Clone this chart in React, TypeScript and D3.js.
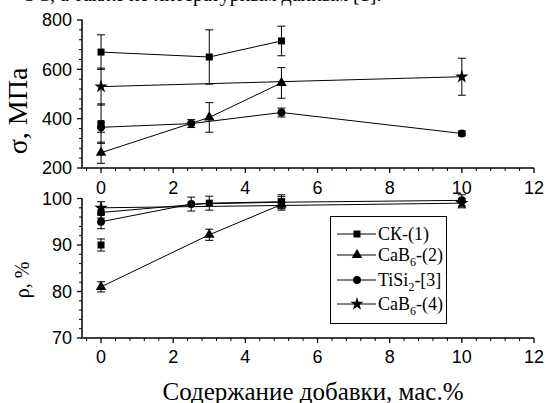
import React from "react";
import * as d3 from "d3";

// ---- data ----
const xSK = [0, 3, 5];
const sigmaSK = [670, 650, 715];
const sigmaSKErr = [70, 110, 60];
const rhoSK = [97, 99, 99.3];
const rhoSKErr = [1.2, 1.5, 1.5];
// separate СК point at 0 %
const xSKextra = [0];
const sigmaSKextra = [380];
const sigmaSKextraErr = [80];
const rhoSKextra = [90];
const rhoSKextraErr = [1.3];

const xCaB2 = [0, 3, 5];
const sigmaCaB2 = [262, 405, 545];
const sigmaCaB2Err = [43, 60, 62];
const rhoCaB2 = [81, 92.2, 98.7];
const rhoCaB2Err = [1.1, 1.2, 1.2];

const xTiSi = [0, 2.5, 5, 10];
const sigmaTiSi = [365, 380, 425, 340];
const sigmaTiSiErr = [20, 16, 18, 10];
const rhoTiSi = [95, 98.8, 99.2, 99.6];
const rhoTiSiErr = [1.5, 1.5, 1.2, 1.2];

const xCaB4 = [0, 10];
const sigmaCaB4 = [530, 570];
const sigmaCaB4Err = [75, 75];
const rhoCaB4 = [98, 99];
const rhoCaB4Err = [1.3, 1.0];

const xTicks = [0, 2, 4, 6, 8, 10, 12];
const sigmaTicks = [200, 400, 600, 800];
const rhoTicks = [70, 80, 90, 100];

const legendItems = [
  { sym: "square", main: "СК-(1)", sub: "", rest: "" },
  { sym: "triangle", main: "CaB", sub: "6", rest: "-(2)" },
  { sym: "circle", main: "TiSi", sub: "2", rest: "-[3]" },
  { sym: "star", main: "CaB", sub: "6", rest: "-(4)" },
];

type Sym = "square" | "triangle" | "circle" | "star";

const symPath = (s: Sym) => {
  if (s === "square") return d3.symbol(d3.symbolSquare, 49)()!;
  if (s === "triangle") return d3.symbol(d3.symbolTriangle, 48)()!;
  if (s === "circle") return d3.symbol(d3.symbolCircle, 50)()!;
  return d3.symbol(d3.symbolStar, 55)()!;
};

const SANS = "Liberation Sans, Arial, sans-serif";
const SERIF = "Liberation Serif, Times New Roman, serif";

export default function App() {
  const W = 548;
  const H = 403;
  const x = d3.scaleLinear().domain([-0.5, 12]).range([83, 534]);
  const yTop = d3.scaleLinear().domain([200, 800]).range([168, 20]);
  const yBot = d3.scaleLinear().domain([70, 100]).range([338, 198.5]);

  const xMinor = d3.range(-0.4, 12.001, 0.4).filter(
    (v) => Math.abs(v / 2 - Math.round(v / 2)) > 0.01
  );
  const topMinor = d3.range(200, 800.1, 40).filter((v) => v % 200 !== 0);
  const botMinor = d3.range(70, 100.1, 2).filter((v) => v % 10 !== 0);

  const line = (xs: number[], ys: number[], ys2: d3.ScaleLinear<number, number>) =>
    d3.line<number>().x((_, i) => x(xs[i])).y((v) => ys2(v))(ys) || "";

  const series = (
    xs: number[],
    ys: number[],
    errs: number[],
    sym: Sym,
    y: d3.ScaleLinear<number, number>,
    key: string,
    drawLine = true
  ) => (
    <g key={key}>
      {drawLine && xs.length > 1 && (
        <path d={line(xs, ys, y)} fill="none" stroke="#000" strokeWidth={1} />
      )}
      {xs.map((xv, i) => {
        const cx = x(xv);
        const y1 = y(ys[i] + errs[i]);
        const y2 = y(ys[i] - errs[i]);
        return (
          <g key={i}>
            <line x1={cx} x2={cx} y1={y1} y2={y2} stroke="#000" strokeWidth={1} />
            <line x1={cx - 4} x2={cx + 4} y1={y1} y2={y1} stroke="#000" strokeWidth={1} />
            <line x1={cx - 4} x2={cx + 4} y1={y2} y2={y2} stroke="#000" strokeWidth={1} />
          </g>
        );
      })}
      {xs.map((xv, i) => (
        <path key={"m" + i} d={symPath(sym)} transform={`translate(${x(xv)},${y(ys[i])})`} fill="#000" />
      ))}
    </g>
  );

  const xAxis = (y0: number, labelY: number, key: string) => (
    <g key={key}>
      <line x1={x(-0.5)} x2={x(12)} y1={y0} y2={y0} stroke="#000" strokeWidth={1.5} />
      {xTicks.map((t) => (
        <g key={t}>
          <line x1={x(t)} x2={x(t)} y1={y0} y2={y0 + 5} stroke="#000" strokeWidth={1.3} />
          <text x={x(t)} y={labelY} textAnchor="middle" style={{ fontFamily: SANS, fontSize: 18 }}>
            {t}
          </text>
        </g>
      ))}
      {xMinor.map((t) => (
        <line key={"n" + t} x1={x(t)} x2={x(t)} y1={y0} y2={y0 + 3} stroke="#000" strokeWidth={1} />
      ))}
    </g>
  );

  const yAxis = (
    y: d3.ScaleLinear<number, number>,
    ticks: number[],
    minor: number[],
    key: string
  ) => {
    const [a, b] = y.range();
    return (
      <g key={key}>
        <line x1={82} x2={82} y1={a + 0.75} y2={b - 0.5} stroke="#000" strokeWidth={1.5} />
        {ticks.map((t) => (
          <g key={t}>
            <line x1={77} x2={82} y1={y(t)} y2={y(t)} stroke="#000" strokeWidth={1.3} />
            <text x={72} y={y(t) + 6.4} textAnchor="end" style={{ fontFamily: SANS, fontSize: 18 }}>
              {t}
            </text>
          </g>
        ))}
        {minor.map((t) => (
          <line key={"n" + t} x1={79} x2={82} y1={y(t)} y2={y(t)} stroke="#000" strokeWidth={1} />
        ))}
      </g>
    );
  };

  const legendYs = [234, 255, 280, 304];

  return (
    <svg width={W} height={H} style={{ position: "absolute", left: 0, top: 0, background: "#fff" }}>
      <rect width={W} height={H} fill="#fff" />
      <text x={22} y={1} style={{ fontFamily: SERIF, fontSize: 20 }}>
        ОС, а также по литературным данным [1].
      </text>

      {/* top panel */}
      {series(xSK, sigmaSK, sigmaSKErr, "square", yTop, "s1")}
      {series(xSKextra, sigmaSKextra, sigmaSKextraErr, "square", yTop, "s1e", false)}
      {series(xCaB4, sigmaCaB4, sigmaCaB4Err, "star", yTop, "s4")}
      {series(xTiSi, sigmaTiSi, sigmaTiSiErr, "circle", yTop, "s3")}
      {series(xCaB2, sigmaCaB2, sigmaCaB2Err, "triangle", yTop, "s2")}
      {yAxis(yTop, sigmaTicks, topMinor, "ya")}
      {xAxis(168, 193.5, "xa")}

      {/* bottom panel */}
      {series(xSK, rhoSK, rhoSKErr, "square", yBot, "r1")}
      {series(xSKextra, rhoSKextra, rhoSKextraErr, "square", yBot, "r1e", false)}
      {series(xCaB2, rhoCaB2, rhoCaB2Err, "triangle", yBot, "r2")}
      {series(xTiSi, rhoTiSi, rhoTiSiErr, "circle", yBot, "r3")}
      {series(xCaB4, rhoCaB4, rhoCaB4Err, "star", yBot, "r4")}
      {yAxis(yBot, rhoTicks, botMinor, "yb")}
      {xAxis(338, 363, "xb")}

      {/* legend */}
      <rect x={330.5} y={216.5} width={116} height={107} fill="#fff" stroke="#000" strokeWidth={1} />
      {legendItems.map((it, i) => (
        <g key={i}>
          <line x1={337} x2={376} y1={legendYs[i]} y2={legendYs[i]} stroke="#000" strokeWidth={1} />
          <path d={symPath(it.sym as Sym)} transform={`translate(357,${legendYs[i]})`} fill="#000" />
          <text x={378} y={legendYs[i] + 6} style={{ fontFamily: SERIF, fontSize: 18 }}>
            {it.main}
            {it.sub && (
              <tspan style={{ fontSize: 12 }} dy={5}>
                {it.sub}
              </tspan>
            )}
            {it.rest && <tspan dy={it.sub ? -5 : 0}>{it.rest}</tspan>}
          </text>
        </g>
      ))}

      {/* axis titles */}
      <text transform="translate(27,111) rotate(-90)" textAnchor="middle" style={{ fontFamily: SERIF, fontSize: 28 }}>
        σ, МПа
      </text>
      <text transform="translate(29,280) rotate(-90)" textAnchor="middle" style={{ fontFamily: SERIF, fontSize: 20 }}>
        ρ, %
      </text>
      <text x={313} y={400} textAnchor="middle" style={{ fontFamily: SERIF, fontSize: 25 }}>
        Содержание добавки, мас.%
      </text>
    </svg>
  );
}
